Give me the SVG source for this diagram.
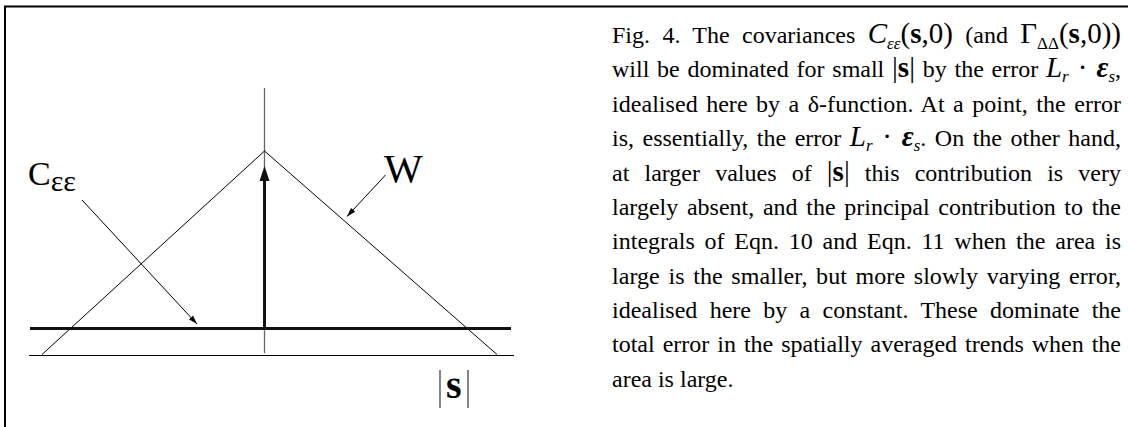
<svg xmlns="http://www.w3.org/2000/svg" width="1128" height="427" viewBox="0 0 1128 427">
<defs>
<style>
.t{font-family:"Liberation Serif","Times New Roman",serif;font-size:24px;fill:#000}
.m{font-family:"Liberation Serif","Times New Roman",serif;fill:#000}
.mb{font-size:29px}
.sb{font-size:17px}
.it{font-style:italic}
.bd{font-weight:bold}
.thin{stroke:#000;stroke-width:1;fill:none}
.axis{stroke:#666;stroke-width:1.3;fill:none}
.thick{stroke:#111;stroke-width:3;fill:none}
</style>
<marker id="sa" viewBox="0 0 10 10" refX="10" refY="5" markerWidth="9" markerHeight="9" markerUnits="userSpaceOnUse" orient="auto"><path d="M0,1.8 L10,5 L0,8.2 Z" fill="#000"/></marker>
</defs>
<rect x="0" y="0" width="1128" height="427" fill="#fff"/>
<g id="frame"><path d="M5,427 L5,6.5 L1128,6.5" stroke="#000" stroke-width="2" fill="none"/></g>
<g id="plot">
<line class="axis" x1="264.5" y1="88" x2="264.5" y2="353"/>
<line class="thin" x1="29" y1="355.5" x2="514" y2="355.5"/>
<polyline class="thin" points="42,354.5 264.5,151 497,354.5"/>
<line class="thick" x1="30" y1="328.5" x2="511" y2="328.5"/>
</g>
<g id="delta"><line x1="264.5" y1="328" x2="264.5" y2="180" stroke="#111" stroke-width="3"/><path d="M264.5,166 L269.5,181 L259.5,181 Z" fill="#111"/></g>
<g id="label-C"><text class="m" x="28" y="185" font-size="34">C<tspan font-size="30" dy="6">εε</tspan></text></g>
<g id="label-W"><text class="m" x="384" y="182" font-size="41">W</text></g>
<g id="label-s"><text class="m bd" x="446" y="398" font-size="40">s</text><line x1="440" y1="370" x2="440" y2="408" stroke="#444" stroke-width="1.3"/><line x1="468" y1="370" x2="468" y2="408" stroke="#444" stroke-width="1.3"/></g>
<g id="connectors">
<line class="thin" x1="82" y1="200" x2="197" y2="324" marker-end="url(#sa)"/>
<line class="thin" x1="385.5" y1="175" x2="347" y2="216.5" marker-end="url(#sa)"/>
</g>
<g id="caption">
<text class="t" x="612" y="43" word-spacing="6.3" textLength="509">Fig. 4. The covariances <tspan class="mb it">C</tspan><tspan class="sb it" dy="6">εε</tspan><tspan class="mb" dy="-6">(</tspan><tspan class="mb bd">s</tspan><tspan class="mb">,0)</tspan> (and <tspan class="mb">Γ</tspan><tspan class="sb" dy="6">ΔΔ</tspan><tspan class="mb" dy="-6">(</tspan><tspan class="mb bd">s</tspan><tspan class="mb">,0))</tspan></text>
<text class="t" x="612" y="77" word-spacing="1.8" textLength="509">will be dominated for small <tspan class="mb">|</tspan><tspan class="mb bd">s</tspan><tspan class="mb">|</tspan> by the error <tspan class="mb it">L</tspan><tspan class="sb it" dy="5">r</tspan><tspan class="mb" dy="-5"> · </tspan><tspan class="mb it bd">ε</tspan><tspan class="sb it" dy="5">s</tspan><tspan dy="-5">,</tspan></text>
<text class="t" x="612" y="112" word-spacing="2.4" textLength="509">idealised here by a δ-function. At a point, the error</text>
<text class="t" x="612" y="146" word-spacing="2.5" textLength="509">is, essentially, the error <tspan class="mb it">L</tspan><tspan class="sb it" dy="5">r</tspan><tspan class="mb" dy="-5"> · </tspan><tspan class="mb it bd">ε</tspan><tspan class="sb it" dy="5">s</tspan><tspan dy="-5">. On the other hand,</tspan></text>
<text class="t" x="612" y="181" word-spacing="9.1" textLength="509">at larger values of <tspan class="mb">|</tspan><tspan class="mb bd">s</tspan><tspan class="mb">|</tspan> this contribution is very</text>
<text class="t" x="612" y="215" word-spacing="2.6" textLength="509">largely absent, and the principal contribution to the</text>
<text class="t" x="612" y="249" word-spacing="3.7" textLength="509">integrals of Eqn. 10 and Eqn. 11 when the area is</text>
<text class="t" x="612" y="284" word-spacing="2.6" textLength="509">large is the smaller, but more slowly varying error,</text>
<text class="t" x="612" y="318" word-spacing="6.3" textLength="509">idealised here by a constant. These dominate the</text>
<text class="t" x="612" y="352" word-spacing="2.0" textLength="509">total error in the spatially averaged trends when the</text>
<text class="t" x="612" y="387">area is large.</text>
</g>
</svg>
